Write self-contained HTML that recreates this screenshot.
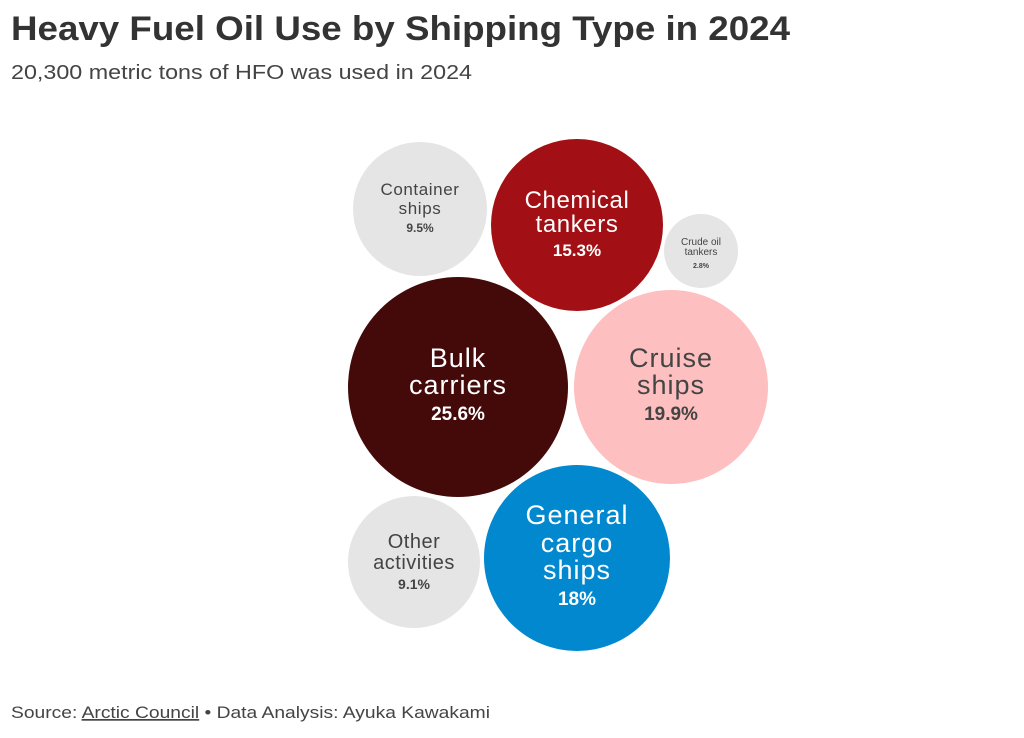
<!DOCTYPE html>
<html><head><meta charset="utf-8"><style>
html,body{margin:0;padding:0;background:#fff;}
body{width:1024px;height:733px;overflow:hidden;font-family:"Liberation Sans",sans-serif;}
</style></head><body>
<svg width="1024" height="733" viewBox="0 0 1024 733" xmlns="http://www.w3.org/2000/svg" font-family="Liberation Sans, sans-serif">
<text x="11" y="40" font-size="34" font-weight="bold" fill="#333" textLength="779" lengthAdjust="spacingAndGlyphs">Heavy Fuel Oil Use by Shipping Type in 2024</text>
<text x="11" y="79" font-size="20" fill="#444" textLength="461" lengthAdjust="spacingAndGlyphs">20,300 metric tons of HFO was used in 2024</text>

<circle cx="420" cy="209" r="67" fill="#e5e5e5"/>
<text text-anchor="middle" fill="#444" font-size="17" letter-spacing="0.6"><tspan x="420" y="195">Container</tspan><tspan x="420" y="214">ships</tspan></text>
<text x="420" y="232" text-anchor="middle" fill="#444" font-size="12" font-weight="bold">9.5%</text>

<circle cx="577" cy="225" r="86" fill="#a20f14"/>
<text text-anchor="middle" fill="#fff" font-size="24" letter-spacing="0.6"><tspan x="577" y="208">Chemical</tspan><tspan x="577" y="232">tankers</tspan></text>
<text x="577" y="256" text-anchor="middle" fill="#fff" font-size="17" font-weight="bold">15.3%</text>

<circle cx="701" cy="251" r="37" fill="#e5e5e5"/>
<text text-anchor="middle" fill="#444" font-size="10"><tspan x="701" y="245">Crude oil</tspan><tspan x="701" y="255">tankers</tspan></text>
<text x="701" y="268" text-anchor="middle" fill="#444" font-size="7" font-weight="bold">2.8%</text>

<circle cx="458" cy="387" r="110" fill="#440a0a"/>
<text text-anchor="middle" fill="#fff" font-size="27" letter-spacing="1"><tspan x="458" y="367">Bulk</tspan><tspan x="458" y="394">carriers</tspan></text>
<text x="458" y="420" text-anchor="middle" fill="#fff" font-size="19" font-weight="bold">25.6%</text>

<circle cx="671" cy="387" r="97" fill="#fdbfbf"/>
<text text-anchor="middle" fill="#444" font-size="27" letter-spacing="1"><tspan x="671" y="367">Cruise</tspan><tspan x="671" y="394">ships</tspan></text>
<text x="671" y="420" text-anchor="middle" fill="#444" font-size="19" font-weight="bold">19.9%</text>

<circle cx="577" cy="558" r="93" fill="#0288cf"/>
<text text-anchor="middle" fill="#fff" font-size="27" letter-spacing="1"><tspan x="577" y="524">General</tspan><tspan x="577" y="552">cargo</tspan><tspan x="577" y="579">ships</tspan></text>
<text x="577" y="605" text-anchor="middle" fill="#fff" font-size="19" font-weight="bold">18%</text>

<circle cx="414" cy="562" r="66" fill="#e5e5e5"/>
<text text-anchor="middle" fill="#444" font-size="20" letter-spacing="0.5"><tspan x="414" y="548">Other</tspan><tspan x="414" y="569">activities</tspan></text>
<text x="414" y="589" text-anchor="middle" fill="#444" font-size="14" font-weight="bold">9.1%</text>

<text x="11" y="718" font-size="17" fill="#444" textLength="479" lengthAdjust="spacingAndGlyphs">Source: <tspan text-decoration="underline">Arctic Council</tspan> • Data Analysis: Ayuka Kawakami</text>
</svg>
</body></html>
